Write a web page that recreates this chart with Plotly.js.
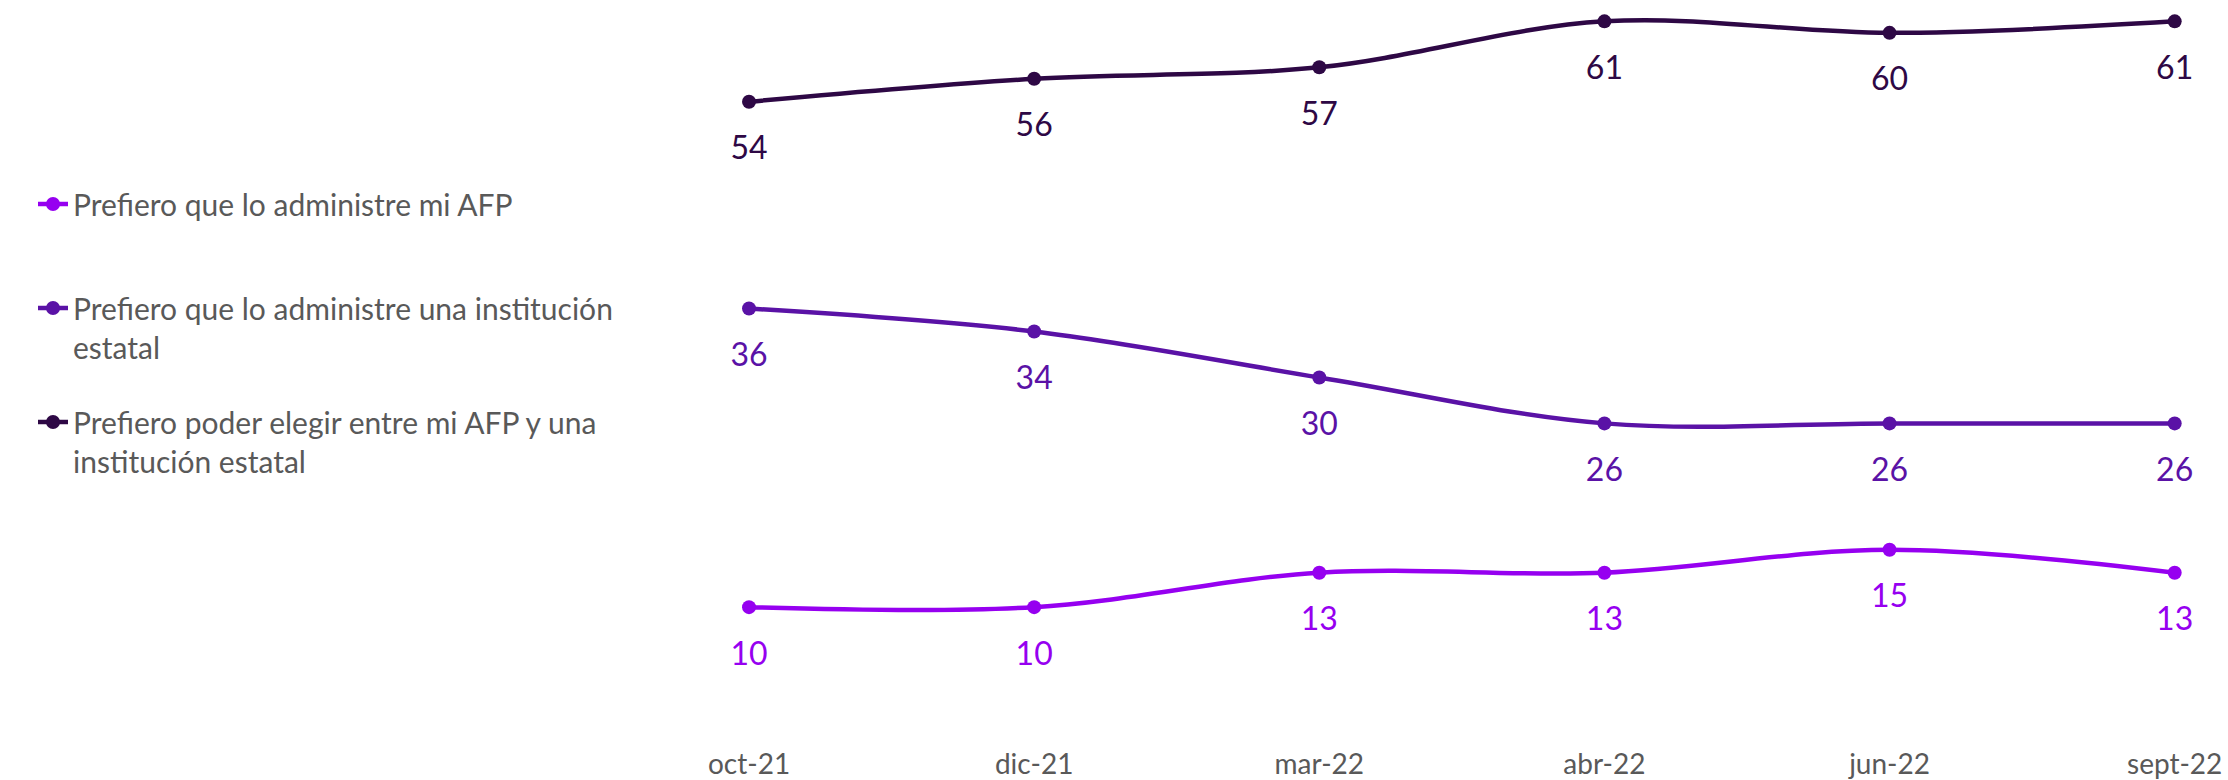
<!DOCTYPE html>
<html>
<head>
<meta charset="utf-8">
<script src="https://cdn.plot.ly/plotly-3.0.1.min.js"></script>
<style>
  html, body { margin: 0; padding: 0; background: #ffffff; }
  #chart { width: 2228px; height: 780px; }
</style>
</head>
<body>
<div id="chart"></div>
<script>
const categories = ["oct-21", "dic-21", "mar-22", "abr-22", "jun-22", "sept-22"];
const seriesNames = [
  "Prefiero que lo administre mi AFP",
  "Prefiero que lo administre una institución<br>estatal",
  "Prefiero poder elegir entre mi AFP y una<br>institución estatal"
];
const afp = [10, 10, 13, 13, 15, 13];
const estatal = [36, 34, 30, 26, 26, 26];
const elegir = [54, 56, 57, 61, 60, 61];
const colors = ["#9600F0", "#5A12A6", "#2E0845"];

const FONT = "Lato, 'Open Sans', sans-serif";
const seriesData = [afp, estatal, elegir];
const legendIds = ["legend", "legend2", "legend3"];

const lineTraces = seriesData.map((vals, i) => ({
  type: "scatter",
  mode: "lines+markers",
  name: seriesNames[i],
  x: categories,
  y: vals,
  line: { color: colors[i], width: 4.5, shape: "spline", smoothing: 1 },
  marker: { color: colors[i], size: 14 },
  cliponaxis: false,
  legend: legendIds[i],
  hoverinfo: "x+y"
}));

// data labels (invisible larger markers push the labels further below the points)
const labelTraces = seriesData.map((vals, i) => ({
  type: "scatter",
  mode: "markers+text",
  x: categories,
  y: vals,
  text: vals.map(v => String(v)),
  textposition: "bottom center",
  textfont: { family: FONT, size: 32, color: colors[i] },
  marker: { size: 52, opacity: 0, color: colors[i] },
  cliponaxis: false,
  showlegend: false,
  hoverinfo: "skip"
}));

const legendBase = {
  xref: "container", yref: "container",
  xanchor: "left", yanchor: "top",
  bgcolor: "rgba(0,0,0,0)",
  font: { family: FONT, size: 30, color: "#595959" },
  valign: "top",
  itemwidth: 30
};

const layout = {
  width: 2228,
  height: 780,
  margin: { l: 692, r: 2, t: 0, b: 35 },
  paper_bgcolor: "#ffffff",
  plot_bgcolor: "#ffffff",
  showlegend: true,
  font: { family: FONT, color: "#595959" },
  xaxis: {
    type: "category",
    range: [-0.2, 5.18],
    showgrid: false,
    zeroline: false,
    showline: false,
    ticks: "",
    tickfont: { family: FONT, size: 28, color: "#595959" },
    ticklabelstandoff: 0,
    fixedrange: true
  },
  yaxis: {
    range: [-2, 62.86],
    showgrid: false,
    zeroline: false,
    showline: false,
    showticklabels: false,
    ticks: "",
    fixedrange: true
  },
  legend: Object.assign({}, legendBase, { x: 33 / 2228, y: 1 - 178 / 780 }),
  legend2: Object.assign({}, legendBase, { x: 33 / 2228, y: 1 - 282 / 780 }),
  legend3: Object.assign({}, legendBase, { x: 33 / 2228, y: 1 - 396 / 780 })
};

Plotly.newPlot("chart", lineTraces.concat(labelTraces), layout, { displayModeBar: false, responsive: false });
</script>
</body>
</html>
